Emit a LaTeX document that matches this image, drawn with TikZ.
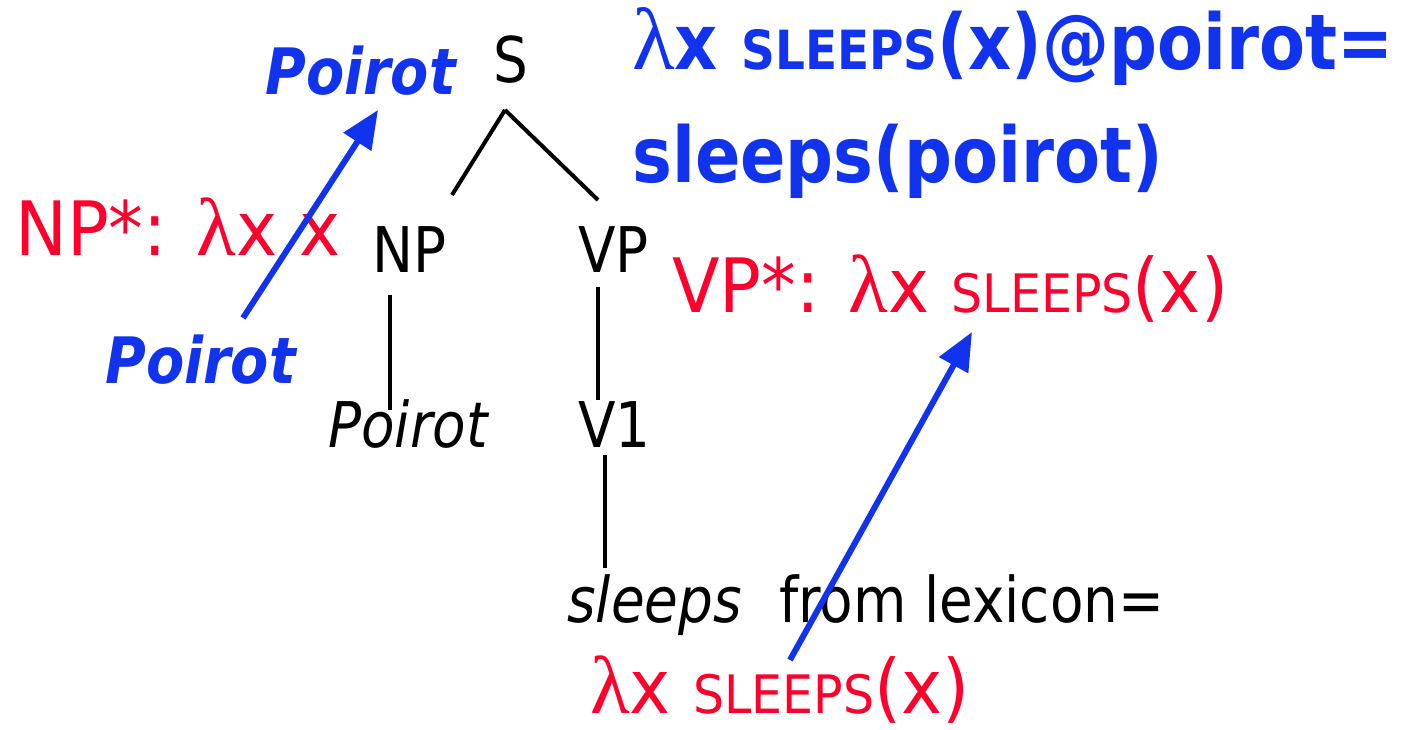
\documentclass[tikz,border=0pt]{standalone}
\usepackage{fontspec}
\setmainfont{DejaVu Sans}[FakeStretch=0.87]
\newfontfamily\widefont{DejaVu Sans}[FakeStretch=0.925]
\newfontfamily\lamfont{Liberation Serif}
\usetikzlibrary{calc,arrows.meta}
\definecolor{hblue}{RGB}{17,51,238}
\definecolor{hred}{RGB}{255,0,45}
\newcommand{\lam}[1]{{\lamfont\mdseries\upshape\fontsize{#1}{#1}\selectfont λ}}
\newcommand{\scaps}[2]{{\fontsize{#1}{#1}\selectfont #2}}
\tikzset{
  txt/.style={inner sep=0pt, anchor=base west},
  blk/.style={txt, font=\fontsize{63}{70}\selectfont, text=black},
  redt/.style={txt, font=\widefont\fontsize{75}{80}\selectfont, text=hred},
  bluehead/.style={txt, font=\fontsize{77}{80}\selectfont\bfseries, text=hblue},
  bluename/.style={txt, font=\fontsize{64}{70}\selectfont\bfseries\itshape, text=hblue},
  branch/.style={line width=4pt, black},
  carry/.style={line width=6pt, hblue, -{Triangle[length=38pt,width=32pt]}},
}
\begin{document}
\begin{tikzpicture}[x=1pt,y=-1pt]
\useasboundingbox (0,0) rectangle (1418,730);
% tree
\node[blk] (S) at (493,83) {S};
\node[blk] (NP) at (372,272) {NP};
\node[blk] (VP) at (578,272) {VP};
\node[blk] (PoirotW) at (328,447) {\itshape Poirot};
\node[blk] (V1) at (578,447) {V1};
\node[blk] (sleeps) at (567,622) {\itshape sleeps};
\node[blk] (lex) at (779,622) {from lexicon=};
% semantics
\node[redt] (NPstar) at (15,255) {NP*: \lam{82}x x};
\node[redt] (VPstar) at (672,312) {VP*: \lam{82}x \scaps{53}{SLEEPS}(x)};
\node[redt] (lexsem) at (590,713) {\lam{82}x \scaps{53}{SLEEPS}(x)};
\node[bluename] (PoirotTop) at (265,95) {Poirot};
\node[bluename] (PoirotLow) at (105,383) {Poirot};
\node[bluehead] (head1) at (632,70) {\lam{88}x {\fontsize{54}{54}\selectfont SLEEPS}(x)@poirot=};
\node[bluehead] (head2) at (632,183) {sleeps(poirot)};
% branches
\draw[branch] ($(S.base west)+(12,27)$) -- ($(NP.base west)+(80,-77)$);
\draw[branch] ($(S.base west)+(12,27)$) -- ($(VP.base west)+(20,-72)$);
\draw[branch] ($(NP.base west)+(18,23)$) -- ($(PoirotW.base west)+(62,-37)$);
\draw[branch] ($(VP.base west)+(20,15)$) -- ($(V1.base west)+(20,-47)$);
\draw[branch] ($(V1.base west)+(27,8)$) -- ($(sleeps.base west)+(38,-54)$);
% arrows
\draw[carry] ($(PoirotLow.base west)+(138,-65)$) -- ($(PoirotTop.base west)+(113,15)$);
\draw[carry] ($(lexsem.base west)+(200,-53)$) -- ($(VPstar.base west)+(300,20)$);
\end{tikzpicture}
\end{document}
